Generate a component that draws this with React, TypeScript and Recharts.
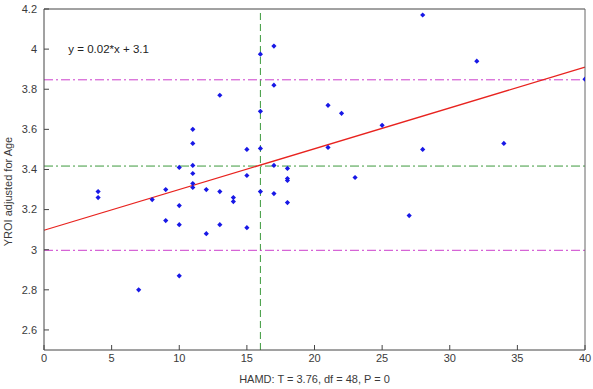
import React from "react";
import {
  ReferenceDot,
  ReferenceLine,
  Scatter,
  ScatterChart,
  XAxis,
  YAxis,
} from "recharts";

// HAMD score per subject and its YROI (age adjusted)
const hamd = [
  4, 4, 7, 8, 9, 9, 10, 10, 10, 10,
  11, 11, 11, 11, 11, 11, 12, 12, 13, 13,
  13, 14, 14, 15, 15, 15, 16, 16, 16, 16,
  17, 17, 17, 17, 18, 18, 18, 18, 21, 21,
  22, 23, 25, 27, 28, 28, 32, 34, 40,
];
const yroi = [
  3.29, 3.26, 2.8, 3.25, 3.3, 3.145, 3.41, 3.22, 3.125, 2.87,
  3.6, 3.53, 3.42, 3.38, 3.33, 3.31, 3.3, 3.08, 3.77, 3.29,
  3.125, 3.26, 3.24, 3.5, 3.37, 3.11, 3.975, 3.69, 3.505, 3.29,
  4.015, 3.82, 3.42, 3.28, 3.405, 3.355, 3.345, 3.235, 3.72, 3.51,
  3.68, 3.36, 3.62, 3.17, 4.17, 3.5, 3.94, 3.53, 3.85,
];

const xTicks = [0, 5, 10, 15, 20, 25, 30, 35, 40];
const yTicks = [2.6, 2.8, 3, 3.2, 3.4, 3.6, 3.8, 4, 4.2];

// regression line ends, mean lines and +/-2 SD limits
const fitX = [0, 40];
const fitY = [3.097, 3.91];
const meanX = 16;
const meanY = 3.417;
const sdLimits = [3.847, 2.997];
const equationText = "y = 0.02*x + 3.1";
const equationAt = { x: 1.8, y: 4.0 };

const points = hamd.map((x, i) => ({ x, y: yroi[i] }));

const font = "'Liberation Sans', Arial, sans-serif";
const textColor = "#3a3a3a";
const axisColor = "#444";
const tickLen = 5;

const fmt = (v: number) => String(Number(v.toFixed(1)));

const Marker = (props: any) => {
  const { cx, cy } = props;
  const s = 2.6;
  return (
    <path
      d={`M${cx},${cy - s}L${cx + s},${cy}L${cx},${cy + s}L${cx - s},${cy}Z`}
      fill="#1818e6"
    />
  );
};

// MATLAB style ticks: drawn inward from the axis line
const BottomTick = (props: any) => {
  const { x, y, payload } = props;
  const axisY = y - 4;
  return (
    <g>
      <line x1={x} x2={x} y1={axisY} y2={axisY - tickLen} stroke={axisColor} />
      <text x={x} y={y} dy="0.71em" textAnchor="middle" fontSize={11} fill={textColor}>
        {payload.value}
      </text>
    </g>
  );
};

const TopTick = (props: any) => {
  const { x, y } = props;
  const axisY = y + 2;
  return <line x1={x} x2={x} y1={axisY} y2={axisY + tickLen} stroke={axisColor} />;
};

const LeftTick = (props: any) => {
  const { x, y, payload } = props;
  const axisX = x + 7;
  return (
    <g>
      <line x1={axisX} x2={axisX + tickLen} y1={y} y2={y} stroke={axisColor} />
      <text x={x} y={y} dy="0.355em" textAnchor="end" fontSize={11} fill={textColor}>
        {fmt(payload.value)}
      </text>
    </g>
  );
};

const RightTick = (props: any) => {
  const { x, y } = props;
  const axisX = x - 2;
  return <line x1={axisX} x2={axisX - tickLen} y1={y} y2={y} stroke="#666" />;
};

export default function App() {
  return (
    <div style={{ position: "absolute", left: 0, top: 0, background: "#fff" }}>
      <ScatterChart
        width={593}
        height={389}
        margin={{ top: 0, right: 0, bottom: 0, left: 0 }}
        style={{ fontFamily: font }}
      >
        <XAxis
          type="number"
          dataKey="x"
          domain={[0, 40]}
          ticks={xTicks}
          allowDataOverflow
          height={39}
          tickSize={0}
          tickMargin={4}
          tickLine={false}
          stroke={axisColor}
          tick={<BottomTick />}
          label={{
            content: (p: any) => {
              const vb = p.viewBox;
              return (
                <text
                  x={vb.x + vb.width / 2}
                  y={vb.y + 33}
                  textAnchor="middle"
                  fontSize={11}
                  fill={textColor}
                >
                  HAMD: T = 3.76, df = 48, P = 0
                </text>
              );
            },
          }}
        />
        <XAxis
          xAxisId="top"
          orientation="top"
          type="number"
          dataKey="x"
          domain={[0, 40]}
          ticks={xTicks}
          height={9}
          tickSize={0}
          tickMargin={2}
          tickLine={false}
          stroke={axisColor}
          tick={<TopTick />}
        />
        <YAxis
          type="number"
          dataKey="y"
          domain={[2.5, 4.2]}
          ticks={yTicks}
          allowDataOverflow
          width={44}
          tickSize={0}
          tickMargin={7}
          tickLine={false}
          stroke={axisColor}
          tick={<LeftTick />}
          label={{
            content: (p: any) => {
              const vb = p.viewBox;
              const lx = 12;
              const ly = vb.y + vb.height / 2 + 12;
              return (
                <text
                  x={lx}
                  y={ly}
                  transform={`rotate(-90, ${lx}, ${ly})`}
                  textAnchor="middle"
                  fontSize={11}
                  fill={textColor}
                >
                  YROI adjusted for Age
                </text>
              );
            },
          }}
        />
        <YAxis
          yAxisId="right"
          orientation="right"
          type="number"
          dataKey="y"
          domain={[2.5, 4.2]}
          ticks={yTicks}
          width={8}
          tickSize={0}
          tickMargin={2}
          tickLine={false}
          stroke="#666"
          tick={<RightTick />}
        />
        <ReferenceLine
          x={meanX}
          stroke="#3c9a3c"
          strokeWidth={1}
          strokeDasharray="7 4"
        />
        <ReferenceLine
          y={meanY}
          stroke="#3c9a3c"
          strokeWidth={1}
          strokeDasharray="9 3 2 3"
        />
        {sdLimits.map((v) => (
          <ReferenceLine
            key={v}
            y={v}
            stroke="#cc3fcc"
            strokeWidth={1}
            strokeDasharray="9 3 2 3"
          />
        ))}
        <ReferenceLine
          segment={[
            { x: fitX[0], y: fitY[0] },
            { x: fitX[1], y: fitY[1] },
          ]}
          stroke="#e8231f"
          strokeWidth={1.3}
        />
        <ReferenceDot
          x={equationAt.x}
          y={equationAt.y}
          r={0}
          fill="none"
          stroke="none"
          label={{
            content: (p: any) => {
              const vb = p.viewBox;
              return (
                <text x={vb.x} y={vb.y + 4} fontSize={11.5} fill="#222">
                  {equationText}
                </text>
              );
            },
          }}
        />
        <Scatter data={points} shape={Marker} isAnimationActive={false} />
      </ScatterChart>
    </div>
  );
}
